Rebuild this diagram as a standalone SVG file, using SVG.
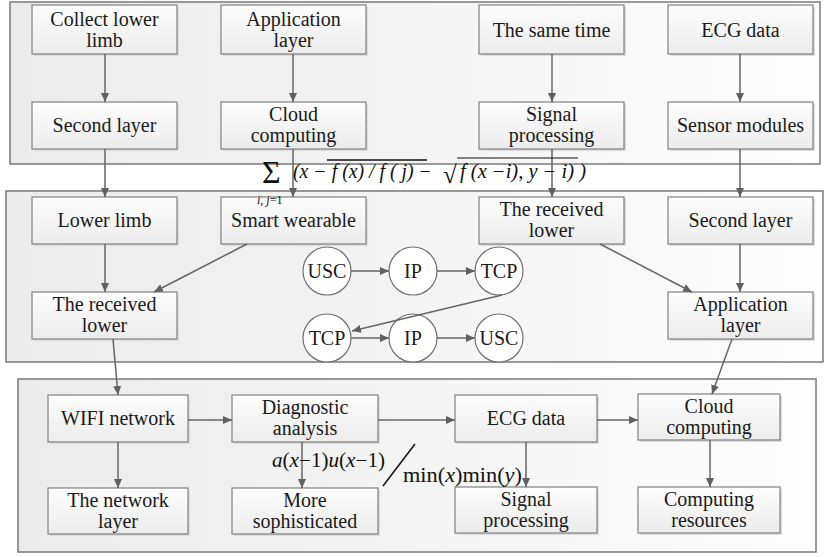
<svg xmlns="http://www.w3.org/2000/svg" width="826" height="557" viewBox="0 0 826 557">
<defs>
<linearGradient id="pg" x1="0" y1="0" x2="1" y2="0"><stop offset="0" stop-color="#ebebeb"/><stop offset="1" stop-color="#fdfdfd"/></linearGradient>
<linearGradient id="bg" x1="0" y1="0" x2="0" y2="1"><stop offset="0" stop-color="#fdfdfd"/><stop offset="1" stop-color="#ececec"/></linearGradient>
<marker id="ah" viewBox="0 0 9 8" refX="9" refY="4" markerWidth="9" markerHeight="8" markerUnits="userSpaceOnUse" orient="auto"><path d="M0,0 L9,4 L0,8 z" fill="#606060"/></marker>
</defs>
<style>
.panel{fill:url(#pg);stroke:#7a7a7a;stroke-width:1.5}
.box{fill:url(#bg);stroke:#808080;stroke-width:1.2}
.sh{fill:#dcdcdc}
.t{font-family:"Liberation Serif","Times New Roman",serif;font-size:20px;fill:#1a1a1a;text-anchor:middle}
.c{fill:#ffffff;stroke:#707070;stroke-width:1.2}
.ct{font-family:"Liberation Serif","Times New Roman",serif;font-size:20px;fill:#1a1a1a;text-anchor:middle}
.m{font-family:"Liberation Serif","Times New Roman",serif;font-size:20px;fill:#111}
.e{stroke:#666;stroke-width:1.5;fill:none;marker-end:url(#ah)}
</style>
<rect class="panel" x="10" y="2" width="810" height="162"/>
<rect class="panel" x="6" y="191" width="817" height="171"/>
<rect class="panel" x="18" y="379" width="798" height="173"/>

<g id="n1"><rect class="sh" x="34" y="7" width="145" height="49"/><rect class="box" x="32" y="5" width="145" height="49"/><text class="t" x="104.5" y="25.5">Collect lower</text><text class="t" x="104.5" y="46.5">limb</text></g>
<g id="n2"><rect class="sh" x="223" y="7" width="145" height="49"/><rect class="box" x="221" y="5" width="145" height="49"/><text class="t" x="293.5" y="25.5">Application</text><text class="t" x="293.5" y="46.5">layer</text></g>
<g id="n3"><rect class="sh" x="481" y="7" width="145" height="49"/><rect class="box" x="479" y="5" width="145" height="49"/><text class="t" x="551.5" y="36.5">The same time</text></g>
<g id="n4"><rect class="sh" x="670" y="7" width="145" height="49"/><rect class="box" x="668" y="5" width="145" height="49"/><text class="t" x="740.5" y="36.5">ECG data</text></g>
<g id="n5"><rect class="sh" x="34" y="104" width="145" height="47"/><rect class="box" x="32" y="102" width="145" height="47"/><text class="t" x="104.5" y="132">Second layer</text></g>
<g id="n6"><rect class="sh" x="223" y="104" width="145" height="47"/><rect class="box" x="221" y="102" width="145" height="47"/><text class="t" x="293.5" y="121">Cloud</text><text class="t" x="293.5" y="142">computing</text></g>
<g id="n7"><rect class="sh" x="481" y="104" width="145" height="47"/><rect class="box" x="479" y="102" width="145" height="47"/><text class="t" x="551.5" y="121">Signal</text><text class="t" x="551.5" y="142">processing</text></g>
<g id="n8"><rect class="sh" x="670" y="104" width="145" height="47"/><rect class="box" x="668" y="102" width="145" height="47"/><text class="t" x="740.5" y="132">Sensor modules</text></g>

<g id="n9"><rect class="sh" x="34" y="199" width="145" height="47"/><rect class="box" x="32" y="197" width="145" height="47"/><text class="t" x="104.5" y="227">Lower limb</text></g>
<g id="n10"><rect class="sh" x="223" y="199" width="145" height="47"/><rect class="box" x="221" y="197" width="145" height="47"/><text class="t" x="293.5" y="227">Smart wearable</text></g>
<g id="n11"><rect class="sh" x="481" y="199" width="145" height="47"/><rect class="box" x="479" y="197" width="145" height="47"/><text class="t" x="551.5" y="216">The received</text><text class="t" x="551.5" y="237">lower</text></g>
<g id="n12"><rect class="sh" x="670" y="199" width="145" height="47"/><rect class="box" x="668" y="197" width="145" height="47"/><text class="t" x="740.5" y="227">Second layer</text></g>
<g id="n13"><rect class="sh" x="34" y="294" width="145" height="47"/><rect class="box" x="32" y="292" width="145" height="47"/><text class="t" x="104.5" y="311">The received</text><text class="t" x="104.5" y="332">lower</text></g>
<g id="n14"><rect class="sh" x="670" y="294" width="145" height="47"/><rect class="box" x="668" y="292" width="145" height="47"/><text class="t" x="740.5" y="311">Application</text><text class="t" x="740.5" y="332">layer</text></g>

<g id="c1"><circle class="c" cx="327" cy="271" r="24"/><text class="ct" x="327" y="278">USC</text></g>
<g id="c2"><circle class="c" cx="413" cy="271" r="24"/><text class="ct" x="413" y="278">IP</text></g>
<g id="c3"><circle class="c" cx="499" cy="271" r="24"/><text class="ct" x="499" y="278">TCP</text></g>
<g id="c4"><circle class="c" cx="327" cy="338" r="24"/><text class="ct" x="327" y="345">TCP</text></g>
<g id="c5"><circle class="c" cx="413" cy="338" r="24"/><text class="ct" x="413" y="345">IP</text></g>
<g id="c6"><circle class="c" cx="499" cy="338" r="24"/><text class="ct" x="499" y="345">USC</text></g>

<g id="n15"><rect class="sh" x="50" y="397" width="140" height="47"/><rect class="box" x="48" y="395" width="140" height="47"/><text class="t" x="118" y="425">WIFI network</text></g>
<g id="n16"><rect class="sh" x="234" y="397" width="146" height="47"/><rect class="box" x="232" y="395" width="146" height="47"/><text class="t" x="305" y="414">Diagnostic</text><text class="t" x="305" y="435">analysis</text></g>
<g id="n17"><rect class="sh" x="457" y="397" width="142" height="47"/><rect class="box" x="455" y="395" width="142" height="47"/><text class="t" x="526" y="425">ECG data</text></g>
<g id="n18"><rect class="sh" x="640" y="396" width="142" height="46"/><rect class="box" x="638" y="394" width="142" height="46"/><text class="t" x="709" y="412.5">Cloud</text><text class="t" x="709" y="433.5">computing</text></g>
<g id="n19"><rect class="sh" x="50" y="490" width="140" height="46"/><rect class="box" x="48" y="488" width="140" height="46"/><text class="t" x="118" y="506.5">The network</text><text class="t" x="118" y="527.5">layer</text></g>
<g id="n20"><rect class="sh" x="234" y="490" width="146" height="46"/><rect class="box" x="232" y="488" width="146" height="46"/><text class="t" x="305" y="506.5">More</text><text class="t" x="305" y="527.5">sophisticated</text></g>
<g id="n21"><rect class="sh" x="457" y="489" width="142" height="46"/><rect class="box" x="455" y="487" width="142" height="46"/><text class="t" x="526" y="505.5">Signal</text><text class="t" x="526" y="526.5">processing</text></g>
<g id="n22"><rect class="sh" x="640" y="489" width="142" height="46"/><rect class="box" x="638" y="487" width="142" height="46"/><text class="t" x="709" y="505.5">Computing</text><text class="t" x="709" y="526.5">resources</text></g>

<g id="connectors">
<line class="e" x1="105" y1="54" x2="105" y2="102"/>
<line class="e" x1="293" y1="54" x2="293" y2="102"/>
<line class="e" x1="552" y1="54" x2="552" y2="102"/>
<line class="e" x1="740" y1="54" x2="740" y2="102"/>
<line class="e" x1="105" y1="149" x2="105" y2="197"/>
<line class="e" x1="293" y1="149" x2="293" y2="197"/>
<line class="e" x1="552" y1="149" x2="552" y2="197"/>
<line class="e" x1="740" y1="149" x2="740" y2="197"/>
<line class="e" x1="105" y1="244" x2="105" y2="292"/>
<line class="e" x1="247" y1="244" x2="154" y2="292"/>
<line class="e" x1="600" y1="244" x2="692" y2="292"/>
<line class="e" x1="740" y1="244" x2="740" y2="292"/>
<line class="e" x1="351" y1="271" x2="389" y2="271"/>
<line class="e" x1="437" y1="271" x2="475" y2="271"/>
<line class="e" x1="502" y1="295" x2="352" y2="331"/>
<line class="e" x1="351" y1="338" x2="389" y2="338"/>
<line class="e" x1="437" y1="338" x2="475" y2="338"/>
<line class="e" x1="113" y1="339" x2="118" y2="395"/>
<line class="e" x1="732" y1="339" x2="712" y2="394"/>
<line class="e" x1="188" y1="420" x2="232" y2="420"/>
<line class="e" x1="378" y1="420" x2="455" y2="420"/>
<line class="e" x1="597" y1="420" x2="638" y2="420"/>
<line class="e" x1="118" y1="442" x2="118" y2="488"/>
<line class="e" x1="302" y1="442" x2="302" y2="488"/>
<line class="e" x1="526" y1="442" x2="526" y2="487"/>
<line class="e" x1="710" y1="440" x2="710" y2="487"/>
</g>

<g id="formula">
<text class="m" x="262" y="183" style="font-size:32px">Σ</text>
<text class="m" x="257" y="204" style="font-size:12px"><tspan font-style="italic">i</tspan>, <tspan font-style="italic">j</tspan>=1</text>
<text class="m" x="293" y="178" font-style="italic" textLength="139" lengthAdjust="spacingAndGlyphs">(x − f (x) / f ( j) −</text>
<line x1="327" y1="160" x2="427" y2="160" stroke="#111" stroke-width="1.5"/>
<text class="m" x="443" y="183" style="font-size:25px">√</text>
<line x1="457" y1="158" x2="578" y2="158" stroke="#111" stroke-width="1.2"/>
<text class="m" x="460" y="178" font-style="italic" textLength="126" lengthAdjust="spacingAndGlyphs">f (x −i), y − i) )</text>
</g>
<g id="labels">
<text class="m" x="272" y="467" textLength="113" lengthAdjust="spacingAndGlyphs"><tspan font-style="italic">a</tspan>(<tspan font-style="italic">x</tspan>−1)<tspan font-style="italic">u</tspan>(<tspan font-style="italic">x</tspan>−1)</text>
<line x1="383" y1="486" x2="415" y2="444" stroke="#111" stroke-width="1.5"/>
<text class="m" x="403" y="482" textLength="119" lengthAdjust="spacingAndGlyphs">min(<tspan font-style="italic">x</tspan>)min(<tspan font-style="italic">y</tspan>)</text>
</g>
</svg>
